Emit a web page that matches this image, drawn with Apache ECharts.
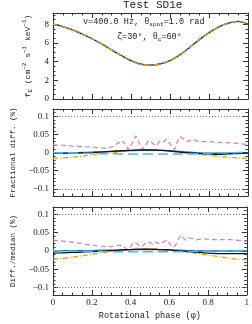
<!DOCTYPE html>
<html>
<head>
<meta charset="utf-8">
<script src="https://cdn.jsdelivr.net/npm/echarts@6/dist/echarts.min.js"></script>
<style>html,body{margin:0;padding:0;background:#fff}#c{width:252px;height:324px}</style>
</head>
<body>
<div id="c"></div>
<script>
// ---------- data ----------
const titleText = 'Test SD1e';
const annotLine1 = '{t|ν=400.0 Hz, θ}{sub|spot}{t|=1.0 rad}';
const annotLine2 = '{t|ζ=30°, θ}{sub|c}{t|=60°}';
const xName = 'Rotational phase (φ)';
const yNames = ['{t|f}{sub|E}{t| (cm}{sup|−2}{t| s}{sup|−1}{t| keV}{sup|−1}{t|)}', 'Fractional diff. (%)', 'Diff./median (%)'];

const phaseGrid = [0,0.05,0.1,0.15,0.2,0.25,0.3,0.35,0.4,0.45,0.5,0.55,0.6,0.65,0.7,0.75,0.8,0.85,0.9,0.95,1];
const fluxValues = [8.00,7.75,7.40,6.95,6.45,5.90,5.25,4.65,4.10,3.72,3.62,3.75,4.10,4.72,5.50,6.35,7.10,7.72,8.12,8.30,8.00];

// Fractional diff (%)
const fracBlack    = [-0.002,-0.002,-0.002,-0.001,0.000,0.001,0.003,0.005,0.006,0.007,0.007,0.006,0.004,0.001,-0.001,-0.003,-0.004,-0.005,-0.004,-0.003,-0.002];
const fracDarkBlue = [-0.001,-0.001,-0.001,0.000,0.001,0.002,0.003,0.004,0.005,0.006,0.006,0.006,0.005,0.003,0.001,-0.001,-0.002,-0.002,-0.002,-0.001,-0.001];
const fracLightBlue= [0.000,-0.001,-0.001,-0.002,-0.002,-0.003,-0.003,-0.004,-0.004,-0.004,-0.004,-0.004,-0.004,-0.004,-0.004,-0.003,-0.002,-0.001,-0.001,0.000,0.000];
const fracOrange   = [-0.016,-0.015,-0.013,-0.010,-0.006,-0.003,-0.001,0.003,0.006,0.008,0.008,0.007,0.004,0.001,-0.002,-0.005,-0.008,-0.011,-0.013,-0.015,-0.016];
const fracPinkPhase = [0,0.05,0.1,0.15,0.2,0.25,0.28,0.3,0.32,0.335,0.35,0.36,0.375,0.385,0.4,0.41,0.425,0.435,0.445,0.46,0.475,0.488,0.5,0.51,0.53,0.545,0.556,0.57,0.58,0.595,0.607,0.624,0.635,0.65,0.66,0.675,0.69,0.7,0.715,0.726,0.75,0.8,0.85,0.9,0.95,1];
const fracPink      = [0.021,0.020,0.018,0.016,0.015,0.013,0.012,0.016,0.020,0.028,0.024,0.031,0.020,0.008,0.020,0.030,0.046,0.035,0.023,0.008,0.020,0.032,0.030,0.027,0.018,0.030,0.033,0.030,0.037,0.028,0.018,0.008,0.025,0.044,0.040,0.036,0.030,0.033,0.036,0.034,0.030,0.030,0.028,0.027,0.025,0.022];

// Diff / median (%)
const medBlack    = [-0.006,-0.005,-0.004,-0.003,-0.002,0.000,0.001,0.003,0.004,0.005,0.005,0.004,0.003,0.000,-0.002,-0.004,-0.006,-0.007,-0.007,-0.007,-0.007];
const medDarkBlue = [0.001,0.001,0.001,0.001,0.001,0.002,0.002,0.003,0.004,0.004,0.004,0.004,0.003,0.002,0.001,0.000,0.000,0.000,0.000,0.000,0.000];
const medLightBlue= [0.001,0.000,0.000,-0.001,-0.001,-0.001,-0.002,-0.002,-0.002,-0.002,-0.002,-0.002,-0.002,-0.002,-0.002,-0.001,-0.001,0.000,0.000,0.001,0.001];
const medOrange   = [-0.022,-0.020,-0.017,-0.013,-0.009,-0.005,-0.001,0.002,0.004,0.005,0.006,0.005,0.003,0.000,-0.003,-0.007,-0.011,-0.015,-0.019,-0.022,-0.024];
const medPinkPhase = [0,0.05,0.1,0.15,0.2,0.25,0.3,0.33,0.35,0.37,0.385,0.4,0.42,0.435,0.45,0.465,0.48,0.5,0.515,0.53,0.545,0.56,0.575,0.59,0.605,0.615,0.63,0.645,0.658,0.67,0.685,0.7,0.71,0.725,0.74,0.77,0.82,0.87,0.92,0.96,1];
const medPink      = [0.030,0.027,0.024,0.020,0.016,0.013,0.012,0.016,0.015,0.010,0.003,0.012,0.024,0.020,0.012,0.015,0.023,0.024,0.018,0.025,0.020,0.022,0.026,0.030,0.018,0.011,0.014,0.030,0.043,0.036,0.030,0.036,0.039,0.034,0.030,0.034,0.031,0.031,0.031,0.029,0.027];

const refLines = [0.1, -0.1];
const fluxRange = [0, 9.2];
const fluxMajor = [0, 2, 4, 6, 8];
const fluxMinor = [0.5,1,1.5,2.5,3,3.5,4.5,5,5.5,6.5,7,7.5,8.5,9];
const diffRange = [-0.12, 0.12];
const diffMajor = [-0.1, -0.05, 0, 0.05, 0.1];
const diffMinor = [-0.12,-0.11,-0.09,-0.08,-0.07,-0.06,-0.04,-0.03,-0.02,-0.01,0.01,0.02,0.03,0.04,0.06,0.07,0.08,0.09,0.11,0.12];

// ---------- styles ----------
const C = { black:'#111111', dblue:'#0072B2', lblue:'#56B4E9', orange:'#E69F00', pink:'#D682B8', green:'#009E73', axis:'#333333', text:'#222222' };
const SERIF = '"Liberation Serif", "DejaVu Serif", serif';
const MONO = '"Liberation Mono", "DejaVu Sans Mono", monospace';

const grids = [
  { left: 53, top: 13, width: 195, height: 86 },
  { left: 53, top: 109, width: 195, height: 87 },
  { left: 53, top: 207, width: 195, height: 88 }
];

function fmt(v) {
  if (Math.abs(v) < 1e-9) return '0';
  const s = String(+Math.abs(v).toFixed(3));
  return v < 0 ? '−' + s : s;
}

const xAxis = [];
const yAxis = [];
grids.forEach((g, gi) => {
  const last = gi === 2;
  ['bottom', 'top'].forEach(pos => {
    xAxis.push({
      type: 'value', gridIndex: gi, position: pos, min: 0, max: 1, interval: 0.2,
      axisLine: { show: true, onZero: false, lineStyle: { color: C.axis, width: 1 } },
      axisTick: { show: true, inside: true, length: 5, lineStyle: { color: C.axis, width: 1 } },
      minorTick: { show: true, splitNumber: 4, length: 2.5, lineStyle: { color: C.axis, width: 1 } },
      splitLine: { show: false }, minorSplitLine: { show: false },
      axisLabel: { show: last && pos === 'bottom', fontFamily: SERIF, fontSize: 9, color: C.text, margin: 3,
                   showMinLabel: true, showMaxLabel: true, formatter: fmt },
      name: (last && pos === 'bottom') ? xName : '',
      nameLocation: 'middle', nameGap: 16,
      nameTextStyle: { fontFamily: MONO, fontSize: 8.5, color: C.text }
    });
  });
  const range = gi === 0 ? fluxRange : diffRange;
  const major = gi === 0 ? fluxMajor : diffMajor;
  const minor = gi === 0 ? fluxMinor : diffMinor;
  ['left', 'right'].forEach(pos => {
    [true, false].forEach(isMajor => {
      const primary = pos === 'left' && isMajor;
      yAxis.push({
        type: 'value', gridIndex: gi, position: pos, min: range[0], max: range[1],
        axisLine: { show: isMajor, onZero: false, lineStyle: { color: C.axis, width: 1 } },
        axisTick: { show: true, inside: true, length: isMajor ? 5 : 2.5, customValues: isMajor ? major : minor,
                    lineStyle: { color: C.axis, width: 1 } },
        splitLine: { show: false },
        axisLabel: { show: primary, customValues: major, fontFamily: SERIF, fontSize: 9, color: C.text, margin: 4, formatter: fmt },
        name: primary ? yNames[gi] : '',
        nameLocation: 'middle', nameRotate: 90,
        nameGap: gi === 0 ? 17 : 33,
        nameTextStyle: {
          fontFamily: MONO, fontSize: 7.5, color: C.text,
          rich: {
            t: { fontFamily: MONO, fontSize: 8, lineHeight: 12, color: C.text },
            sub: { fontFamily: MONO, fontSize: 6, lineHeight: 6, verticalAlign: 'bottom', color: C.text },
            sup: { fontFamily: MONO, fontSize: 6, lineHeight: 6, verticalAlign: 'top', color: C.text }
          }
        }
      });
    });
  });
});

function pairs(xs, ys) { return xs.map((x, i) => [x, ys[i]]); }

function line(gi, xs, ys, color, type, width, smooth, extra) {
  return Object.assign({
    type: 'line', xAxisIndex: gi * 2, yAxisIndex: gi * 4,
    data: pairs(xs, ys), showSymbol: false, symbol: 'none', smooth: smooth ? 0.3 : false,
    silent: true, animation: false,
    lineStyle: { color: color, width: width, type: type }
  }, extra || {});
}

const refMark = {
  markLine: {
    symbol: 'none', silent: true, animation: false, label: { show: false },
    lineStyle: { color: '#777', type: [1, 2], width: 1 },
    data: refLines.map(v => ({ yAxis: v }))
  }
};

const series = [
  // top panel: all codes overlap
  line(0, phaseGrid, fluxValues, C.black, 'solid', 1.3, true),
  line(0, phaseGrid, fluxValues, C.green, [4, 4], 1.3, true),
  line(0, phaseGrid, fluxValues, C.dblue, [3, 5], 1.3, true),
  line(0, phaseGrid, fluxValues, C.orange, [5, 2, 1, 2], 1.3, true),
  line(0, phaseGrid, fluxValues, C.pink, [2, 6], 1.3, true),
  // middle panel
  line(1, fracPinkPhase, fracPink, C.pink, [5, 3], 1.2, false, refMark),
  line(1, phaseGrid, fracOrange, C.orange, [5, 2, 1, 2], 1.2, true),
  line(1, phaseGrid, fracDarkBlue, C.dblue, 'solid', 1.3, true),
  line(1, phaseGrid, fracBlack, C.black, 'solid', 1.2, true),
  line(1, phaseGrid, fracLightBlue, C.lblue, [10, 5], 1.6, true),
  // bottom panel
  line(2, medPinkPhase, medPink, C.pink, [5, 3], 1.2, false, refMark),
  line(2, phaseGrid, medOrange, C.orange, [5, 2, 1, 2], 1.2, true),
  line(2, phaseGrid, medDarkBlue, C.dblue, 'solid', 1.3, true),
  line(2, phaseGrid, medBlack, C.black, 'solid', 1.2, true),
  line(2, phaseGrid, medLightBlue, C.lblue, [10, 5], 1.6, true)
];

const richTxt = {
  t: { fontFamily: MONO, fontSize: 8.5, lineHeight: 12, fill: C.text, color: C.text },
  sub: { fontFamily: MONO, fontSize: 6, lineHeight: 6, verticalAlign: 'bottom', fill: C.text, color: C.text }
};

const chart = echarts.init(document.getElementById('c'), null, { renderer: 'canvas' });
chart.setOption({
  animation: false,
  grid: grids,
  xAxis: xAxis,
  yAxis: yAxis,
  series: series,
  graphic: [
    { type: 'text', left: 123, top: 0, style: { text: titleText, font: '11px ' + MONO, fill: C.text } },
    { type: 'text', left: 83, top: 17, style: { text: annotLine1, rich: richTxt, fill: C.text } },
    { type: 'text', left: 117, top: 32, style: { text: annotLine2, rich: richTxt, fill: C.text } }
  ]
});
</script>
</body>
</html>
